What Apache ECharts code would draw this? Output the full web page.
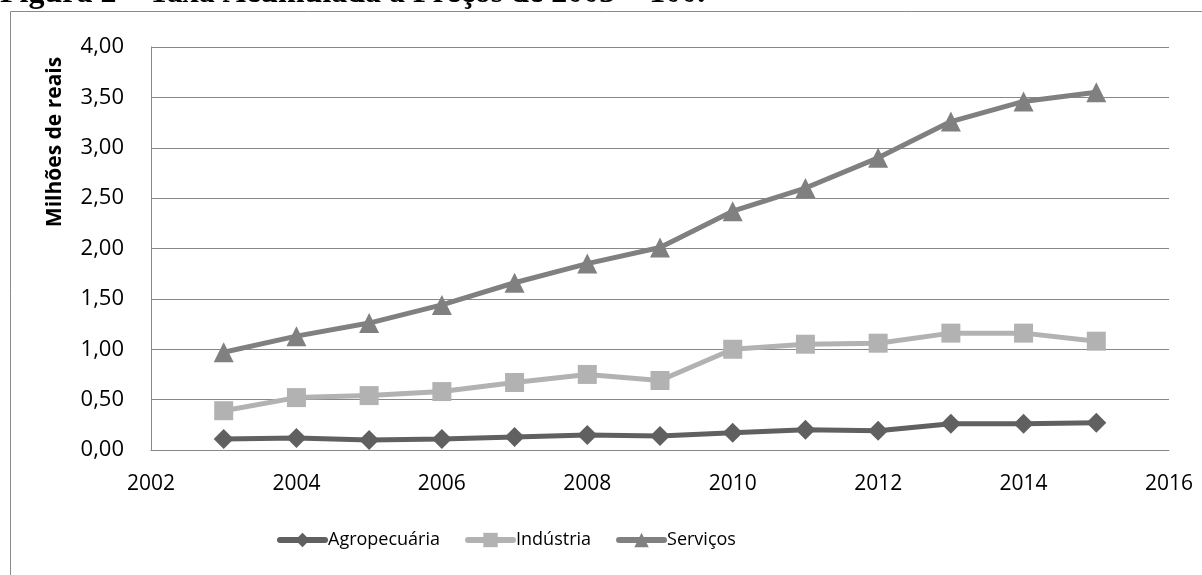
<!DOCTYPE html>
<html>
<head>
<meta charset="utf-8">
<script src="https://cdn.jsdelivr.net/npm/echarts@6/dist/echarts.min.js"></script>
<style>
  html, body { margin: 0; padding: 0; background: #fff; }
  #chart { width: 1202px; height: 575px; }
</style>
</head>
<body>
<div id="chart"></div>
<script>
// Anos e valores acumulados (milhões de reais) por setor
const years = [2003, 2004, 2005, 2006, 2007, 2008, 2009, 2010, 2011, 2012, 2013, 2014, 2015];
const agropecuaria = [0.11, 0.12, 0.10, 0.11, 0.13, 0.15, 0.14, 0.17, 0.20, 0.19, 0.26, 0.26, 0.27];
const industria = [0.39, 0.52, 0.54, 0.58, 0.67, 0.75, 0.69, 1.00, 1.05, 1.06, 1.16, 1.16, 1.08];
const servicos = [0.97, 1.13, 1.26, 1.44, 1.66, 1.85, 2.01, 2.37, 2.60, 2.90, 3.26, 3.46, 3.55];
const seriesNames = ['Agropecuária', 'Indústria', 'Serviços'];
const titleText = 'Figura 2 – Taxa Acumulada a Preços de 2003 = 100.';
const yAxisTitle = 'Milhões de reais';

const pairs = vals => years.map((y, i) => [y, vals[i]]);
const uiFont = '"Open Sans", "Noto Sans", sans-serif';

function lineSeries(name, vals, color, symbol, size) {
  return {
    name: name,
    type: 'line',
    data: pairs(vals),
    symbol: symbol,
    symbolSize: size,
    showAllSymbol: true,
    lineStyle: { color: color, width: 5 },
    itemStyle: { color: color },
    emphasis: { disabled: true },
    animation: false
  };
}

const chart = echarts.init(document.getElementById('chart'), null, { renderer: 'canvas' });
chart.setOption({
  backgroundColor: '#ffffff',
  animation: false,
  grid: { left: 151, right: 33, top: 47, bottom: 125, containLabel: false },
  xAxis: {
    type: 'value',
    min: 2002,
    max: 2016,
    interval: 2,
    axisLine: { show: true, lineStyle: { color: '#888888', width: 1 } },
    axisTick: { show: false },
    splitLine: { show: false },
    axisLabel: {
      color: '#000', fontFamily: uiFont, fontSize: 21, margin: 24,
      formatter: v => String(v)
    }
  },
  yAxis: {
    type: 'value',
    min: 0,
    max: 4,
    interval: 0.5,
    axisLine: { show: true, lineStyle: { color: '#888888', width: 1 } },
    axisTick: { show: false },
    splitLine: { show: true, lineStyle: { color: '#888888', width: 1 } },
    axisLabel: {
      color: '#000', fontFamily: uiFont, fontSize: 22, margin: 27,
      formatter: v => v.toFixed(2).replace('.', ',')
    }
  },
  legend: {
    left: 277,
    top: 531,
    padding: 0,
    itemWidth: 45,
    itemHeight: 18,
    itemGap: 25,
    lineStyle: { width: 6, cap: 'round' },
    textStyle: { color: '#000', fontFamily: uiFont, fontSize: 18, padding: [0, 0, 0, -2] },
    data: seriesNames
  },
  series: [
    lineSeries(seriesNames[0], agropecuaria, '#606060', 'diamond', 20),
    lineSeries(seriesNames[1], industria, '#b2b2b2', 'rect', 19),
    lineSeries(seriesNames[2], servicos, '#808080', 'triangle', 20)
  ],
  graphic: [
    {
      type: 'rect',
      silent: true,
      shape: { x: 10.5, y: 11.5, width: 1300, height: 700 },
      style: { fill: 'none', stroke: '#8a8a8a', lineWidth: 1 },
      z: -1
    },
    {
      type: 'text',
      silent: true,
      x: 0,
      y: -6,
      style: {
        text: titleText,
        fill: '#000',
        fontFamily: '"Liberation Serif", "Times New Roman", serif',
        fontSize: 32,
        fontWeight: 'bold',
        align: 'left',
        verticalAlign: 'middle'
      }
    },
    {
      type: 'text',
      silent: true,
      x: 55,
      y: 142,
      rotation: Math.PI / 2,
      style: {
        text: yAxisTitle,
        fill: '#000',
        fontFamily: uiFont,
        fontSize: 21,
        fontWeight: 'bold',
        align: 'center',
        verticalAlign: 'middle'
      }
    }
  ]
});
</script>
</body>
</html>
